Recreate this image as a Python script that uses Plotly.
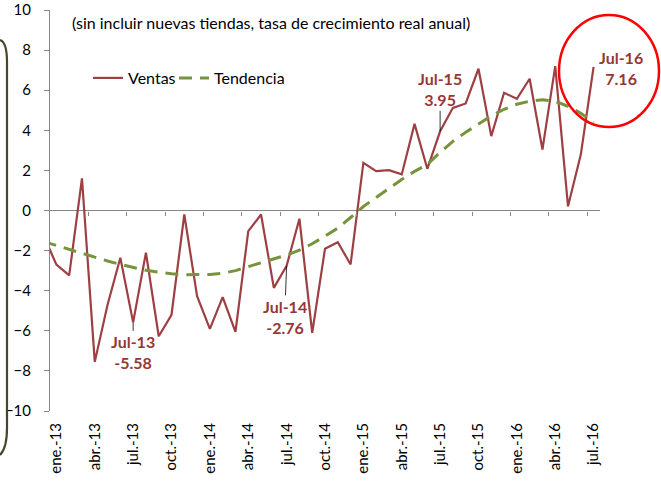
import plotly.graph_objects as go

# ---------------- data ----------------
months = ["dic.-12",
          "ene.-13", "feb.-13", "mar.-13", "abr.-13", "may.-13", "jun.-13", "jul.-13", "ago.-13", "sep.-13", "oct.-13", "nov.-13", "dic.-13",
          "ene.-14", "feb.-14", "mar.-14", "abr.-14", "may.-14", "jun.-14", "jul.-14", "ago.-14", "sep.-14", "oct.-14", "nov.-14", "dic.-14",
          "ene.-15", "feb.-15", "mar.-15", "abr.-15", "may.-15", "jun.-15", "jul.-15", "ago.-15", "sep.-15", "oct.-15", "nov.-15", "dic.-15",
          "ene.-16", "feb.-16", "mar.-16", "abr.-16", "may.-16", "jun.-16", "jul.-16"]

ventas = [-1.25,
          -2.70, -3.24, 1.60, -7.55, -4.70, -2.36, -5.58, -2.10, -6.27, -5.20, -0.20, -4.27,
          -5.90, -4.32, -6.05, -1.03, -0.20, -3.86, -2.76, -0.41, -6.10, -1.91, -1.58, -2.69,
          2.38, 1.96, 2.01, 1.80, 4.32, 2.08, 3.95, 5.12, 5.34, 7.07, 3.71, 5.87,
          5.57, 6.57, 3.04, 7.20, 0.21, 2.79, 7.16]

tendencia = [-1.55,
             -1.75, -1.95, -2.15, -2.35, -2.52, -2.69, -2.84, -2.98, -3.08, -3.16, -3.20, -3.21,
             -3.19, -3.13, -3.00, -2.80, -2.60, -2.42, -2.22, -1.98, -1.66, -1.28, -0.88, -0.35,
             0.20, 0.65, 1.10, 1.55, 1.95, 2.30, 2.90, 3.45, 3.90, 4.30, 4.72, 5.05,
             5.30, 5.45, 5.52, 5.45, 5.20, 4.85, 4.40]

tick_labels = ["ene.-13", "abr.-13", "jul.-13", "oct.-13", "ene.-14", "abr.-14", "jul.-14",
               "oct.-14", "ene.-15", "abr.-15", "jul.-15", "oct.-15", "ene.-16", "abr.-16", "jul.-16"]

callouts = ["jul.-13", "jul.-14", "jul.-15"]
callout_text = ["Jul-13<br>-5.58", "Jul-14<br>-2.76", "Jul-15<br>3.95"]
callout_offset = [(0, 30), (-2, 51), (0, -42)]
highlight = "jul.-16"
highlight_text = "Jul-16<br>7.16"

title_text = "(sin incluir nuevas tiendas, tasa de crecimiento real anual)"

# ---------------- figure ----------------
W, H = 661, 483
ML, MR, MT, MB = 50, 61, 10, 72
PW, PH = W - ML - MR, H - MT - MB

def px(xp):
    return (xp - ML) / PW

def py(yp):
    return (H - MB - yp) / PH

idx = {m: i - 1 for i, m in enumerate(months)}   # ene.-13 -> 0
xs = [idx[m] for m in months]

FONT = "Lato"
RED = "#9E4043"
ANN = "#953735"
GREEN = "#77933C"
AX = "#868686"

fig = go.Figure()
fig.add_trace(go.Scatter(x=xs, y=ventas, mode="lines", name="Ventas",
                         line=dict(color=RED, width=2.2), legend="legend"))
fig.add_trace(go.Scatter(x=xs, y=tendencia, mode="lines", name="Tendencia",
                         line=dict(color=GREEN, width=3, dash="13px,8px"), legend="legend2"))
# helper invisible trace to draw the tick axis at y = 0
fig.add_trace(go.Scatter(x=[0], y=[0], xaxis="x2", mode="markers",
                         marker=dict(opacity=0), showlegend=False, hoverinfo="skip"))

legend_style = dict(orientation="h", xanchor="left", yanchor="middle",
                    font=dict(family=FONT, size=16, color="#000000"),
                    bgcolor="rgba(0,0,0,0)", itemwidth=30, tracegroupgap=0)

xrange = [-0.5, 42.5]
fig.update_layout(
    template="none",
    width=W, height=H, autosize=False,
    margin=dict(l=ML, r=MR, t=MT, b=MB, pad=0, autoexpand=False),
    paper_bgcolor="white", plot_bgcolor="white",
    font=dict(family=FONT, size=15, color="#000000"),
    xaxis=dict(range=xrange, tickmode="array", automargin=False,
               tickvals=[idx[t] for t in tick_labels], ticktext=tick_labels,
               tickangle=-90, ticks="", showline=False, showgrid=False,
               zeroline=False, ticklabelstandoff=8,
               tickfont=dict(family=FONT, size=15, color="#000000")),
    xaxis2=dict(range=xrange, overlaying="x", anchor="free", position=0.5,
                matches="x", tickmode="array", automargin=False,
                tickvals=[i + 2.5 for i in range(0, 42, 3)],
                ticks="outside", ticklen=4, tickcolor=AX, tickwidth=1,
                showticklabels=False, showline=False, showgrid=False, zeroline=False),
    yaxis=dict(range=[-10, 10], dtick=2, tick0=0, showline=True, linecolor=AX,
               linewidth=1, ticks="outside", ticklen=5, tickcolor=AX, automargin=False,
               showgrid=False, zeroline=True, zerolinecolor=AX, zerolinewidth=1,
               ticklabelstandoff=10,
               tickfont=dict(family=FONT, size=15, color="#000000")),
    legend=dict(x=px(88), y=py(78), **legend_style),
    legend2=dict(x=px(174), y=py(78), **legend_style),
    showlegend=True,
)

# title text
fig.add_annotation(text=title_text, xref="paper", yref="paper", x=px(70), y=py(22),
                   xanchor="left", yanchor="middle", showarrow=False,
                   font=dict(family=FONT, size=16, color="#000000"))

# callouts with leader lines
for m, t, (ax, ay) in zip(callouts, callout_text, callout_offset):
    i = months.index(m)
    fig.add_annotation(x=xs[i], y=ventas[i], text=t, showarrow=True, arrowhead=0,
                       arrowwidth=0.8, arrowcolor="#000000", ax=ax, ay=ay, standoff=0,
                       font=dict(family=FONT, size=16, color=ANN, weight="bold"))

i = months.index(highlight)
fig.add_annotation(x=xs[i], y=ventas[i], text=highlight_text, showarrow=False,
                   xshift=27, yshift=-1,
                   font=dict(family=FONT, size=16, color=ANN, weight="bold"))

# red ellipse highlight
fig.add_shape(type="circle", xref="paper", yref="paper",
              x0=px(559), x1=px(659), y0=py(127), y1=py(15),
              line=dict(color="#FF0000", width=2.5))

# left frame decoration
path = "M {},{} Q {},{} {},{} L {},{} Q {},{} {},{}".format(
    px(0), py(40), px(7), py(42), px(7), py(62),
    px(7), py(428), px(7), py(448), px(0), py(455))
fig.add_shape(type="path", xref="paper", yref="paper", path=path,
              line=dict(color="#4A4528", width=2.2))

fig.write_html("out.html", config={"displayModeBar": False},
               post_script="document.body.style.margin='0';document.body.style.padding='0';")
